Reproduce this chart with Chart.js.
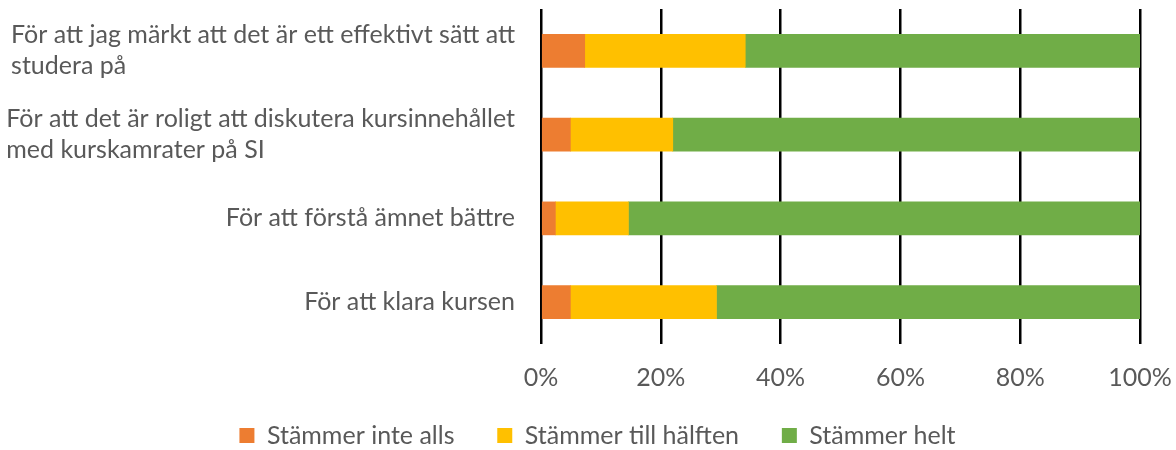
<!DOCTYPE html>
<html lang="sv">
<head>
<meta charset="UTF-8">
<title>SI enkät</title>
<script src="https://cdn.jsdelivr.net/npm/chart.js"></script>
<style>
  html, body { margin: 0; padding: 0; background: #fff; }
  #wrap { width: 1176px; height: 450px; }
</style>
</head>
<body>
<div id="wrap"><canvas id="siChart"></canvas></div>
<script>
// categories (top to bottom), multi-line ones as arrays of lines
const categories = [
    ['För att jag märkt att det är ett effektivt sätt att', 'studera på'],
    ['För att det är roligt att diskutera kursinnehållet', 'med kurskamrater på SI'],
    'För att förstå ämnet bättre',
    'För att klara kursen'
];

// share of answers in percent
const inteAlls = [7.3, 4.9, 2.4, 4.9];
const tillHalften = [26.8, 17.1, 12.2, 24.4];
const helt = [65.9, 78.0, 85.4, 70.7];

const seriesNames = ['Stämmer inte alls', 'Stämmer till hälften', 'Stämmer helt'];
const xTicks = [0, 20, 40, 60, 80, 100];

const textColor = '#595959';
const fontFamily = 'Lato, "Open Sans", sans-serif';
const fontSize = 25;

// draws the category labels: block right-aligned to the axis, lines left-aligned inside it
const categoryLabels = {
    id: 'categoryLabels',
    afterDraw(chart) {
        const ctx = chart.ctx;
        const yScale = chart.scales.y;
        const right = chart.chartArea.left - 26;
        const lineHeight = 31;
        ctx.save();
        ctx.font = fontSize + 'px ' + fontFamily;
        ctx.fillStyle = textColor;
        ctx.textBaseline = 'middle';
        ctx.textAlign = 'left';
        categories.forEach((label, i) => {
            const lines = Array.isArray(label) ? label : [label];
            const widest = Math.max(...lines.map(l => ctx.measureText(l).width));
            const y0 = yScale.getPixelForTick(i) - (lines.length - 1) * lineHeight / 2;
            lines.forEach((line, j) => {
                ctx.fillText(line, right - widest, y0 + j * lineHeight);
            });
        });
        ctx.restore();
    }
};

const ctx = document.getElementById('siChart').getContext('2d');
new Chart(ctx, {
    type: 'bar',
    data: {
        labels: categories,
        datasets: [
            { label: seriesNames[0], data: inteAlls, backgroundColor: '#ED7D31' },
            { label: seriesNames[1], data: tillHalften, backgroundColor: '#FFC000' },
            { label: seriesNames[2], data: helt, backgroundColor: '#70AD47' }
        ]
    },
    options: {
        indexAxis: 'y',
        responsive: true,
        maintainAspectRatio: false,
        animation: false,
        layout: { padding: { left: 55, right: 36, top: 9, bottom: -8 } },
        datasets: {
            bar: { barThickness: 33, borderWidth: 0 }
        },
        scales: {
            x: {
                stacked: true,
                min: 0,
                max: 100,
                afterBuildTicks: scale => { scale.ticks = xTicks.map(v => ({ value: v })); },
                // invisible tick marks give the label gap without widening the right padding
                grid: { color: '#000', lineWidth: 2.5, drawTicks: true, tickLength: 19, tickColor: 'rgba(0,0,0,0)' },
                border: { display: false },
                ticks: {
                    padding: 0,
                    color: textColor,
                    font: { family: fontFamily, size: fontSize },
                    callback: v => v + '%'
                }
            },
            y: {
                stacked: true,
                afterFit: scale => { scale.width = 486; },
                grid: { display: false },
                border: { display: false },
                ticks: { display: false }
            }
        },
        plugins: {
            legend: {
                position: 'bottom',
                labels: {
                    boxWidth: 15,
                    boxHeight: 15,
                    padding: 30,
                    color: textColor,
                    font: { family: fontFamily, size: fontSize },
                    generateLabels: chart => {
                        const items = Chart.defaults.plugins.legend.labels.generateLabels(chart);
                        // a little extra room after the first two entries
                        items.forEach((item, i) => {
                            if (i < items.length - 1) item.text += '\u00a0\u00a0';
                        });
                        return items;
                    }
                }
            },
            tooltip: { enabled: false }
        }
    },
    plugins: [categoryLabels]
});
</script>
</body>
</html>
